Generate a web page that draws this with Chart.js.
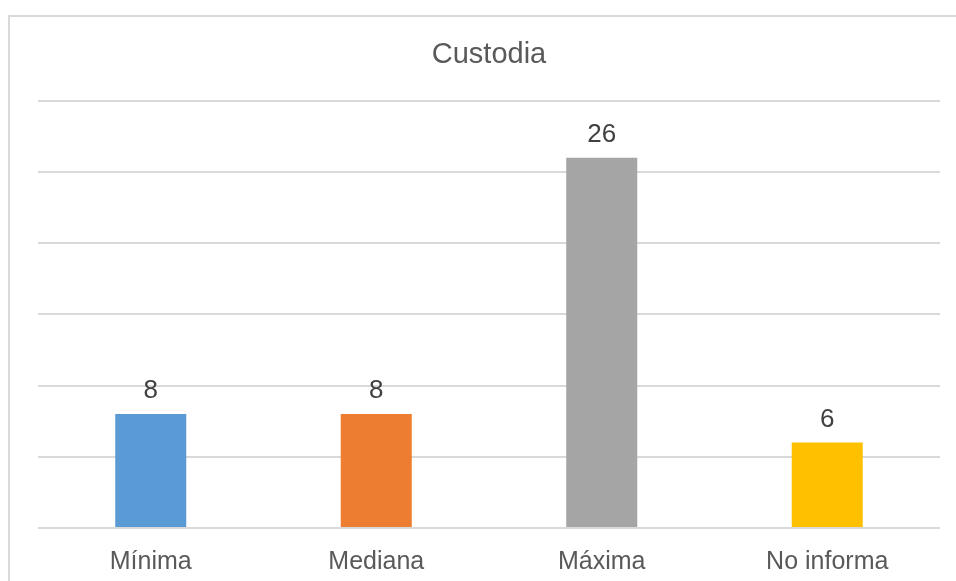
<!DOCTYPE html>
<html>
<head>
<meta charset="utf-8">
<script src="https://cdn.jsdelivr.net/npm/chart.js@4"></script>
<style>
  html, body { margin: 0; padding: 0; background: #fff; overflow: hidden; }
  #frame { position: absolute; left: 8px; top: 15px; width: 1000px; height: 600px;
           border-left: 2px solid #d9d9d9; border-top: 2px solid #d9d9d9; }
  #wrap { position: absolute; left: 0; top: 0; width: 956px; height: 581px; }
</style>
</head>
<body>
<div id="frame"></div>
<div id="wrap"><canvas id="custodia"></canvas></div>
<script>
/* datos */
var categorias = ["Mínima", "Mediana", "Máxima", "No informa"];
var valores = [8, 8, 26, 6];
var colores = ["#5b9bd5", "#ed7d31", "#a5a5a5", "#ffc000"];

/* etiquetas encima de las barras */
var etiquetas = {
  id: 'etiquetas',
  afterDatasetsDraw: function(chart) {
    var ctx = chart.ctx;
    var meta = chart.getDatasetMeta(0);
    ctx.save();
    ctx.font = '26px "Liberation Sans", Arial, sans-serif';
    ctx.fillStyle = '#404040';
    ctx.textAlign = 'center';
    ctx.textBaseline = 'alphabetic';
    meta.data.forEach(function(bar, i) {
      ctx.fillText(valores[i], bar.x, bar.y - 16);
    });
    ctx.restore();
  }
};

new Chart(document.getElementById("custodia"), {
  type: 'bar',
  data: {
    labels: categorias,
    datasets: [{
      label: "Custodia",
      data: valores,
      backgroundColor: colores,
      barPercentage: 0.315,
      categoryPercentage: 1
    }]
  },
  options: {
    responsive: true,
    maintainAspectRatio: false,
    animation: false,
    layout: { padding: { left: 38, right: 16, top: 0, bottom: -7 } },
    plugins: {
      legend: { display: false },
      tooltip: { enabled: false },
      title: {
        display: true,
        text: 'Custodia',
        color: '#595959',
        font: { family: '"Liberation Sans", Arial, sans-serif', size: 29, weight: 'normal' },
        padding: { top: 38, bottom: 28 }
      }
    },
    scales: {
      x: {
        grid: { display: false },
        border: { display: false },
        ticks: {
          color: '#595959',
          padding: 11,
          font: { family: '"Liberation Sans", Arial, sans-serif', size: 25 }
        }
      },
      y: {
        min: 0,
        max: 30,
        ticks: { display: false, stepSize: 5 },
        grid: { color: '#d9d9d9', lineWidth: 2, drawTicks: false },
        border: { display: false }
      }
    }
  },
  plugins: [etiquetas]
});
</script>
</body>
</html>
